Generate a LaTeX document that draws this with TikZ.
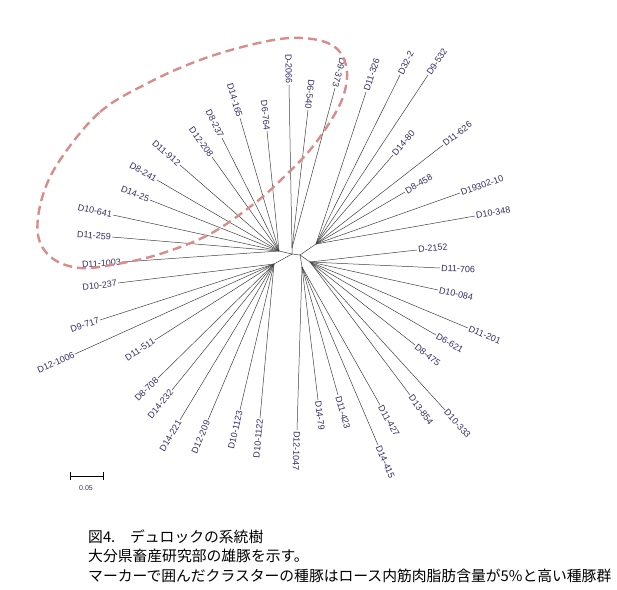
\documentclass[tikz,border=0pt]{standalone}
\usepackage{fontspec}
\setmainfont{Liberation Sans}
\newfontfamily\cjk{Noto Sans CJK JP}
\usetikzlibrary{calc}
\definecolor{labc}{RGB}{50,45,100}
\definecolor{markc}{RGB}{217,140,140}
\newcommand\leafA[5]{%
  \coordinate (#2) at (#3);
  \draw[branch] (#1) -- (#2);
  \path let \p1=(#1), \p2=(#2), \n1={atan2(\y2-\y1,\x2-\x1)} in
    node[lab, rotate=\n1, anchor=west] (#2t) at (#2) {#4};}
\newcommand\leafT[5]{%
  \coordinate (#2) at (#3);
  \draw[branch] (#1) -- (#2);
  \path let \p1=(#1), \p2=(#2), \n1={atan2(\y2-\y1,\x2-\x1)} in
    node[lab, rotate=\n1+180, anchor=east] (#2t) at (#2) {#4};}
\begin{document}
\begin{tikzpicture}[x=1pt,y=-1pt,
  branch/.style={line width=0.5pt, draw=black!75},
  lab/.style={font=\fontsize{9}{9}\selectfont, text=labc, inner sep=1.2pt, outer sep=0pt},
  caption/.style={font=\cjk\fontsize{14.8}{16}\selectfont, anchor=west, inner sep=0pt}]
\useasboundingbox (0,0) rectangle (617,589);
% hubs
\coordinate (C0) at (292,254);
\coordinate (HC) at (279,251);
\coordinate (HT) at (292,248);
\coordinate (CR) at (300,255);
\coordinate (HUR) at (316,244);
\coordinate (HR) at (310,262);
\coordinate (HB) at (302,267);
\coordinate (HLL) at (274,264);
\draw[branch] (HC) -- (C0) -- (HT);
\draw[branch] (C0) -- (CR) -- (HUR);
\draw[branch] (CR) -- (HR);
\draw[branch] (CR) -- (HB);
\draw[branch] (C0) -- (HLL);
% cluster
\leafT{HC}{a1}{122,262}{D11-1003}{}
\leafT{HC}{a2}{112,237}{D11-259}{}
\leafT{HC}{a3}{113,215}{D10-641}{}
\leafT{HC}{a4}{150,200}{D14-25}{}
\leafT{HC}{a5}{157,180}{D8-241}{}
\leafT{HC}{a6}{180,165}{D11-912}{}
\leafT{HC}{a7}{212,157}{D12-208}{}
\leafT{HC}{a8}{222,138}{D8-237}{}
\leafT{HC}{a9}{240,118}{D14-165}{}
\leafT{HC}{a10}{267,131}{D6-764}{}
% top
\leafT{HT}{b1}{289,85}{D-2066}{}
\leafT{HT}{b2}{308,110}{D6-540}{}
\leafT{HT}{b3}{335,88}{D9-373}{}
% upper right
\leafA{HUR}{c1}{366,92}{D11-326}{}
\leafA{HUR}{c2}{400,75}{D32-2}{}
\leafA{HUR}{c3}{428,75}{D9-532}{}
\leafA{HUR}{c4}{393,155}{D14-80}{}
\leafA{HUR}{c5}{443,145}{D11-626}{}
\leafA{HUR}{c6}{405,192}{D8-458}{}
\leafA{HUR}{c7}{460,193}{D19302-10}{}
\leafA{HUR}{c8}{475,216}{D10-348}{}
% right
\leafA{HR}{d1}{417,250}{D-2152}{}
\leafA{HR}{d2}{440,268}{D11-706}{}
\leafA{HR}{d3}{438,290}{D10-084}{}
\leafA{HR}{d4}{468,328}{D11-201}{}
\leafA{HR}{d5}{436,335}{D6-621}{}
\leafA{HR}{d6}{415,345}{D8-475}{}
\leafA{HR}{d7}{445,410}{D10-333}{}
\leafA{HR}{d8}{410,395}{D13-854}{}
% bottom
\leafA{HB}{e1}{380,405}{D11-427}{}
\leafA{HB}{e2}{378,445}{D14-415}{}
\leafA{HB}{e3}{338,395}{D11-423}{}
\leafA{HB}{e4}{318,400}{D14-79}{}
\leafA{HB}{e5}{297,430}{D12-1047}{}
% lower left
\leafT{HLL}{f1}{260,418}{D10-1122}{}
\leafT{HLL}{f2}{240,410}{D10-1123}{}
\leafT{HLL}{f3}{208,420}{D12-209}{}
\leafT{HLL}{f4}{180,420}{D14-221}{}
\leafT{HLL}{f5}{172,390}{D14-232}{}
\leafT{HLL}{f6}{158,378}{D8-708}{}
\leafT{HLL}{f7}{155,340}{D11-511}{}
\leafT{HLL}{f8}{75,354}{D12-1006}{}
\leafT{HLL}{f9}{100,320}{D9-717}{}
\leafT{HLL}{f10}{118,283}{D10-237}{}
% marker ellipse
\draw[markc, line width=2.4pt, dash pattern=on 9pt off 5pt]
  plot[smooth cycle, tension=0.6] coordinates {
  (60,160) (100,112) (150,82) (200,60) (250,45) (290,38) (322,41) (340,52)
  (347,72) (343,97) (330,122) (310,150) (285,176) (255,203) (210,234)
  (160,254) (117,264) (80,268) (52,258) (38,235) (42,198)};
% scale bar
\coordinate (s1) at (70,476);
\coordinate (s2) at (103,476);
\draw[line width=0.6pt] (s1) -- (s2);
\draw[line width=0.6pt] ($(s1)+(0,-4)$) -- ($(s1)+(0,4)$);
\draw[line width=0.6pt] ($(s2)+(0,-4)$) -- ($(s2)+(0,4)$);
\node[font=\fontsize{7}{8}\selectfont, text=labc] (sl) at (86,488) {0.05};
% caption
\node[caption] (cap1) at (88,537) {図4.　デュロックの系統樹};
\node[caption] (cap2) at (88,556) {大分県畜産研究部の雄豚を示す。};
\node[caption] (cap3) at (88,576) {マーカーで囲んだクラスターの種豚はロース内筋肉脂肪含量が5\%と高い種豚群};
\end{tikzpicture}
\end{document}
